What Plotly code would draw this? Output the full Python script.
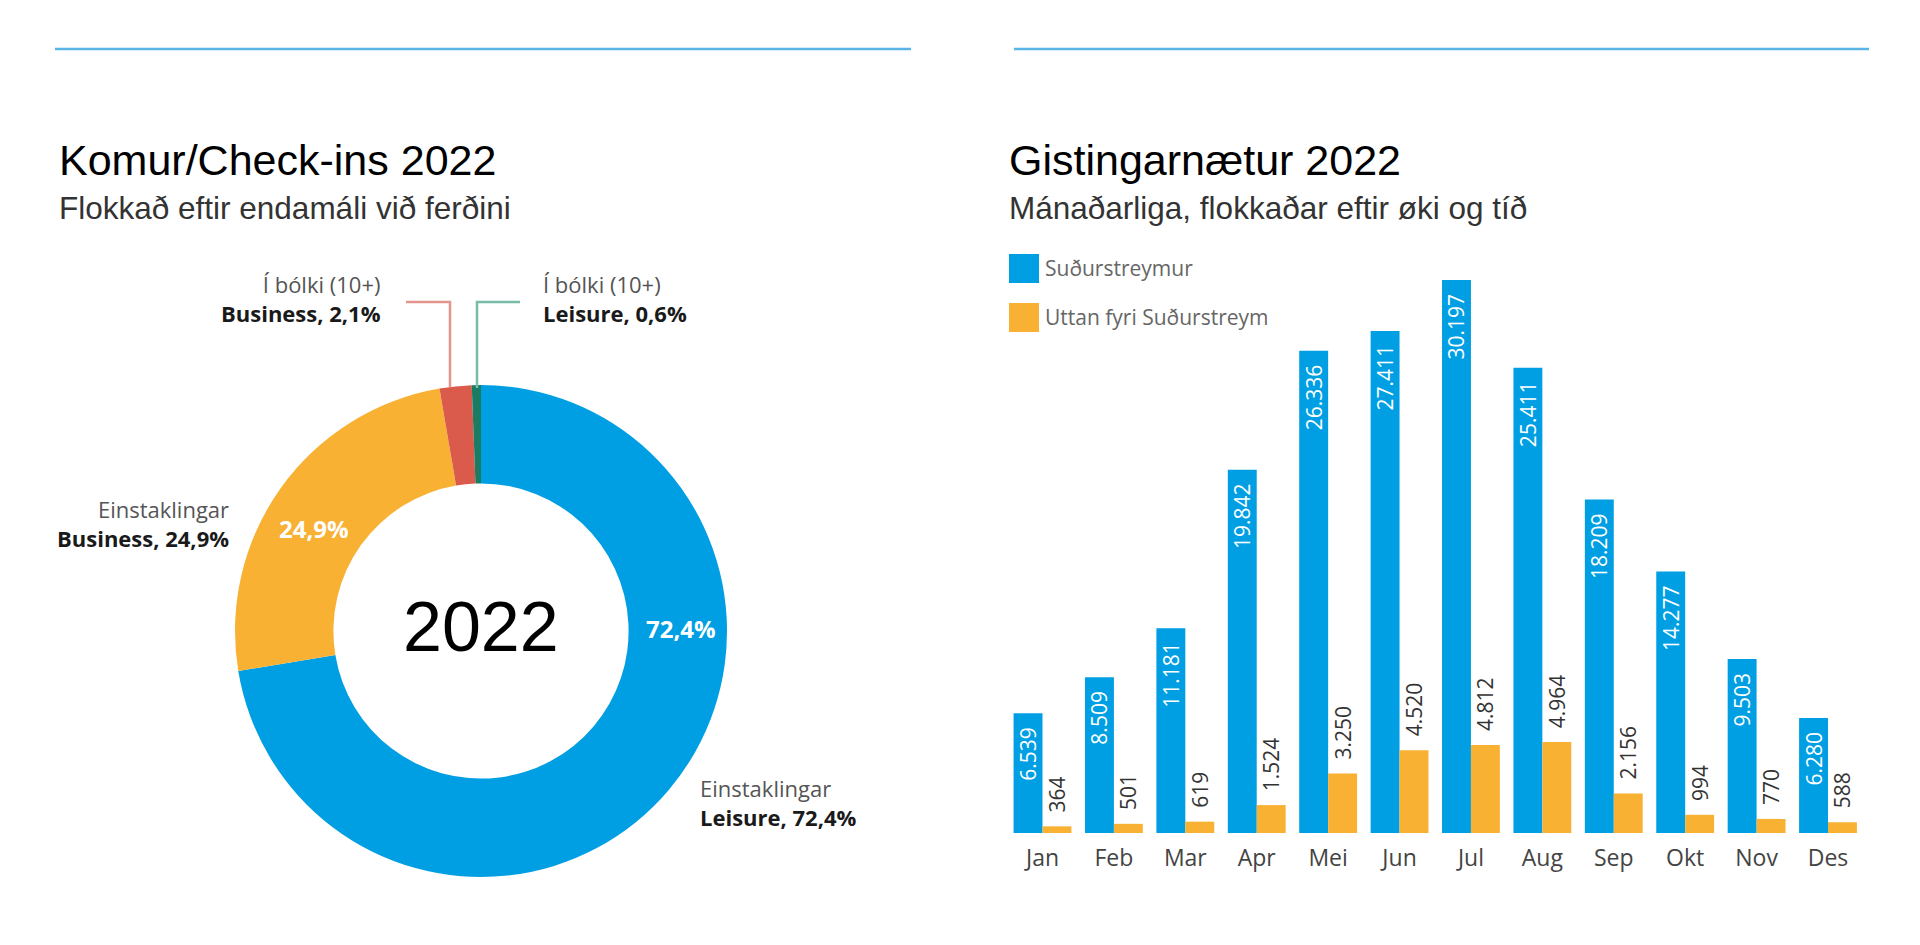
import plotly.graph_objects as go

# ---------------- data ----------------
pie_labels = ["Einstaklingar Leisure", "Einstaklingar Business",
              "Í bólki (10+) Business", "Í bólki (10+) Leisure"]
pie_values = [72.4, 24.9, 2.1, 0.6]
pie_colors = ["#009FE3", "#F8B133", "#DA5A4B", "#1C7C63"]

months = ["Jan", "Feb", "Mar", "Apr", "Mei", "Jun", "Jul", "Aug", "Sep", "Okt", "Nov", "Des"]
sudurstreymur = [6539, 8509, 11181, 19842, 26336, 27411, 30197, 25411, 18209, 14277, 9503, 6280]
uttan = [364, 501, 619, 1524, 3250, 4520, 4812, 4964, 2156, 994, 770, 588]
series_names = ["Suðurstreymur", "Uttan fyri Suðurstreym"]
BLUE, ORANGE = "#009FE3", "#F8B133"

W, H = 1920, 945
def px(x): return x / W
def py(y): return 1 - y / H

def fmt(v):
    return f"{v:,}".replace(",", ".")

NB = "\u00a0"
LABEL_FONT = "Open Sans"
TITLE_FONT = "Liberation Sans, Arial, Helvetica"

fig = go.Figure()

# ---------------- donut ----------------
cx, cy, R = 481, 631, 246
fig.add_trace(go.Pie(
    labels=pie_labels, values=pie_values, hole=0.6,
    direction="clockwise", sort=False, rotation=0,
    marker=dict(colors=pie_colors, line=dict(width=0)),
    textinfo="none", showlegend=False, hoverinfo="label+percent",
    domain=dict(x=[px(cx - R), px(cx + R)], y=[py(cy + R), py(cy - R)]),
))

# ---------------- bars ----------------
fig.add_trace(go.Bar(
    x=months, y=sudurstreymur, name=series_names[0], marker=dict(color=BLUE, line=dict(width=0)),
    text=[fmt(v) + NB * 2 for v in sudurstreymur], textposition="inside", insidetextanchor="end",
    textangle=-90, constraintext="none",
    textfont=dict(family=LABEL_FONT, size=21, color="white"),
    showlegend=False, xaxis="x", yaxis="y",
))
fig.add_trace(go.Bar(
    x=months, y=uttan, name=series_names[1], marker=dict(color=ORANGE, line=dict(width=0)),
    text=[NB * 2 + fmt(v) for v in uttan], textposition="outside",
    textangle=-90, constraintext="none", cliponaxis=False,
    textfont=dict(family=LABEL_FONT, size=21, color="#333333"),
    showlegend=False, xaxis="x", yaxis="y",
))

base_y, top_y = 833, 247
fig.update_layout(
    width=W, height=H, autosize=False,
    margin=dict(l=0, r=0, t=0, b=0),
    paper_bgcolor="white", plot_bgcolor="white",
    separators=",.",
    barmode="group", bargap=0.19, bargroupgap=0,
    xaxis=dict(domain=[px(1006.8), px(1863.7)], type="category",
               showgrid=False, showline=False, zeroline=False, ticks="",
               tickfont=dict(family=LABEL_FONT, size=23, color="#444444"),
               ticklabelstandoff=9, anchor="y"),
    yaxis=dict(domain=[py(base_y), py(top_y)], range=[0, 32000], visible=False,
               showgrid=False, zeroline=False, anchor="x"),
    font=dict(family=LABEL_FONT),
)

shapes = []
annotations = []

# top rules
for x0, x1 in [(55, 911), (1014, 1869)]:
    shapes.append(dict(type="line", xref="paper", yref="paper",
                       x0=px(x0), x1=px(x1), y0=py(49), y1=py(49),
                       line=dict(color="#5AB4E5", width=2.5)))

def ann(text, x, y, size, color="#222222", xanchor="left", family=LABEL_FONT, align="left"):
    annotations.append(dict(text=text, x=px(x), y=py(y), xref="paper", yref="paper",
                            xanchor=xanchor, yanchor="middle", showarrow=False, align=align,
                            font=dict(family=family, size=size, color=color)))

# titles
ann("Komur/Check-ins 2022", 57, 160, 43, "#000000", family=TITLE_FONT)
ann("Flokkað eftir endamáli við ferðini", 57, 208, 31.5, "#333333", family=TITLE_FONT)
ann("Gistingarnætur 2022", 1007, 160, 43, "#000000", family=TITLE_FONT)
ann("Mánaðarliga, flokkaðar eftir øki og tíð", 1007, 208, 31.5, "#333333", family=TITLE_FONT)

# donut centre
ann("2022", cx, 627, 70, "#000000", xanchor="center", family=TITLE_FONT)

# donut labels (two lines each)
GRAY = "#555555"
LS = 22
def two_line(top, bottom):
    return f"<span style='color:{GRAY}'>{top}</span><br><b>{bottom}</b>"

ann(two_line("Í bólki (10+)", "Business, 2,1%"), 383, 298, LS, "#1a1a1a", xanchor="right", align="right")
ann(two_line("Í bólki (10+)", "Leisure, 0,6%"), 541, 298, LS, "#1a1a1a", xanchor="left", align="left")
ann(two_line("Einstaklingar", "Business, 24,9%"), 231, 523, LS, "#1a1a1a", xanchor="right", align="right")
ann(two_line("Einstaklingar", "Leisure, 72,4%"), 698, 802, LS, "#1a1a1a", xanchor="left", align="left")
ann("<b>72,4%</b>", 681, 628, 24, "white", xanchor="center")
ann("<b>24,9%</b>", 314, 528, 24, "white", xanchor="center")

# connector lines
shapes.append(dict(type="path", xref="paper", yref="paper",
                   path=f"M {px(406)},{py(302)} L {px(450)},{py(302)} L {px(450)},{py(387)}",
                   line=dict(color="#E3968D", width=2.5)))
shapes.append(dict(type="path", xref="paper", yref="paper",
                   path=f"M {px(477)},{py(388)} L {px(477)},{py(302)} L {px(520)},{py(302)}",
                   line=dict(color="#78BBA9", width=2.5)))

# bar legend
for i, (name, col) in enumerate(zip(series_names, [BLUE, ORANGE])):
    y0 = 254 + i * 49
    shapes.append(dict(type="rect", xref="paper", yref="paper",
                       x0=px(1009), x1=px(1039), y0=py(y0), y1=py(y0 + 29),
                       fillcolor=col, line=dict(width=0)))
    ann(name, 1043, y0 + 14, 21, "#666666")

fig.update_layout(shapes=shapes, annotations=annotations)

fig.write_html("out.html", config={"displayModeBar": False},
               post_script="document.body.style.margin='0';")
